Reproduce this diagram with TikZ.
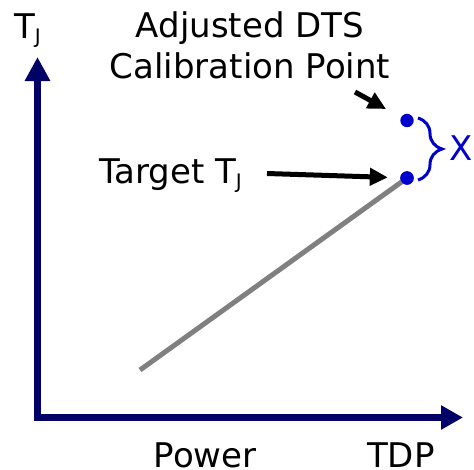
\documentclass[tikz,border=0pt]{standalone}
\usepackage{fontspec}
\setmainfont{DejaVu Sans}
\usetikzlibrary{arrows.meta,decorations.pathreplacing}
\definecolor{axisblue}{RGB}{0,0,102}
\definecolor{dotblue}{RGB}{0,0,204}
\definecolor{linegray}{RGB}{128,128,128}
\newcommand{\subJ}{\raisebox{-5pt}{\fontsize{20}{20}\selectfont J}}
\begin{document}
\begin{tikzpicture}[x=1pt,y=-1pt,
  lbl/.style={inner sep=0pt,font=\fontsize{34}{41}\selectfont},
  dot/.style={circle,fill=dotblue,minimum size=13.4pt,inner sep=0pt},
  axisline/.style={draw=axisblue,line width=7.5pt,line join=miter},
  blackarrow/.style={draw=black,line width=5pt,-{Triangle[width=17pt,length=18pt]}},
  grayline/.style={draw=linegray,line width=5pt},
  bracestyle/.style={draw=dotblue,line width=3pt,decorate,decoration={brace,amplitude=24pt}}]
\useasboundingbox (0,0) rectangle (474,469);
% axes
\coordinate (O) at (37.5,417.5);
\coordinate (ytip) at (37.5,57);
\coordinate (xtip) at (463,417.5);
\draw[axisline,{Triangle[width=24pt,length=24pt]}-{Triangle[width=23pt,length=22pt]}] (ytip) -- (O) -- (xtip);
% gray line and dots
\coordinate (gS) at (140,370);
\node[dot] (top) at (407,120.5) {};
\node[dot] (low) at (407,178) {};
\draw[grayline] (gS) -- (low.center);
\node[dot] at (low) {};
% labels
\node[lbl,anchor=base west] (tj) at (14,38) {T\subJ};
\node[lbl,anchor=base] (adj1) at (250,37) {Adjusted DTS};
\node[lbl,anchor=base] (adj2) at (250,78) {Calibration Point};
\node[lbl,anchor=base west] (target) at (99,183) {Target T\subJ};
\node[lbl,anchor=base west,text=dotblue] (xl) at (449,160) {X};
\node[lbl,anchor=base west] (power) at (153.5,467) {Power};
\node[lbl,anchor=base west] (tdp) at (367,467) {TDP};
% arrows
\coordinate (calS) at (355,92);
\coordinate (tgS) at (267,173.5);
\draw[blackarrow,shorten >=17pt] (calS) -- (top);
\draw[blackarrow,shorten >=12.3pt] (tgS) -- (low);
% brace
\coordinate (bT) at (418,118);
\coordinate (bB) at (418,180);
\draw[bracestyle] (bT) -- (bB);
\end{tikzpicture}
\end{document}
